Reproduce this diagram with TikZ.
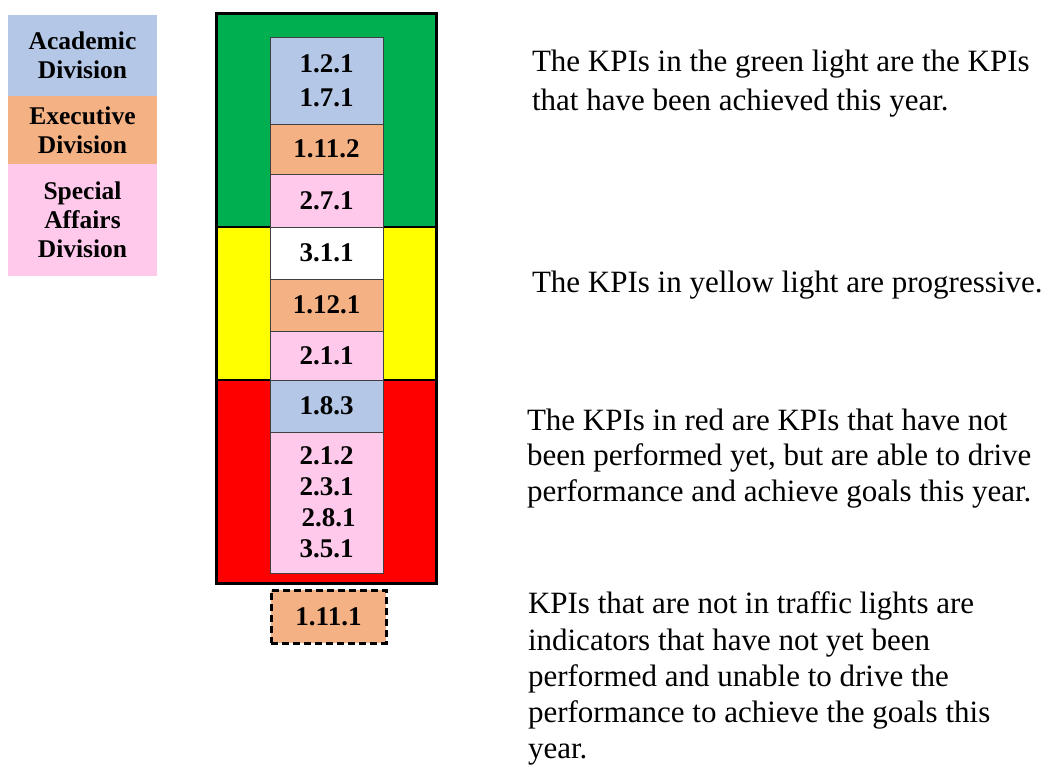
\documentclass[tikz,border=0pt]{standalone}
\usepackage{fontspec}
\setmainfont{Liberation Serif}
\definecolor{acad}{HTML}{B4C7E7}
\definecolor{execc}{HTML}{F4B183}
\definecolor{spec}{HTML}{FFC9EC}
\definecolor{kgreen}{HTML}{00B050}
\definecolor{kyellow}{HTML}{FFFF00}
\definecolor{kred}{HTML}{FF0000}
\begin{document}
\begin{tikzpicture}[x=1bp,y=-1bp,
  legend/.style={inner sep=0pt, outer sep=0pt, minimum width=149bp, anchor=north west, align=center, font=\fontsize{25.5bp}{29bp}\selectfont\bfseries},
  kpi/.style={draw=black!75, line width=1bp, inner sep=0pt, outer sep=0pt, minimum width=113bp, anchor=north west, align=center, font=\fontsize{27bp}{34bp}\selectfont\bfseries},
  band/.style={draw=black, line width=2bp},
  desc/.style={anchor=base west, inner sep=0pt, outer sep=0pt, font=\fontsize{31bp}{37bp}\selectfont}]
\useasboundingbox (0,0) rectangle (1057,765);
% legend
\node[legend, fill=acad, minimum height=81bp] (la) at (8,15) {Academic\\Division};
\node[legend, fill=execc, minimum height=68bp] (le) at (8,96) {Executive\\Division};
\node[legend, fill=spec, minimum height=112bp] (ls) at (8,164) {Special\\Affairs\\Division};
% traffic light bands
\fill[kgreen] (216,14) rectangle (436,227);
\fill[kyellow] (216,227) rectangle (436,380);
\fill[kred] (216,380) rectangle (436,583);
\draw[band] (216,227) -- (436,227);
\draw[band] (216,380) -- (436,380);
\draw[line width=3bp] (216,14) rectangle (436,583);
% KPI boxes
\node[kpi, fill=acad, minimum height=86bp] (k1) at (270,38) {1.2.1\\1.7.1};
\node[kpi, fill=execc, minimum height=50bp] (k2) at (270,124) {1.11.2};
\node[kpi, fill=spec, minimum height=53bp] (k3) at (270,174) {2.7.1};
\node[kpi, fill=white, minimum height=52bp] (k4) at (270,227) {3.1.1};
\node[kpi, fill=execc, minimum height=52bp] (k5) at (270,279) {1.12.1};
\node[kpi, fill=spec, minimum height=49bp] (k6) at (270,331) {2.1.1};
\node[kpi, fill=acad, minimum height=52bp] (k7) at (270,380) {1.8.3};
\node[kpi, fill=spec, minimum height=141bp, font=\fontsize{27bp}{31bp}\selectfont\bfseries] (k8) at (270,432) {2.1.2\\2.3.1\\\hspace*{4bp}2.8.1\\3.5.1};
\node[kpi, fill=execc, draw=black, line width=3bp, dash pattern=on 7bp off 4bp, minimum width=115bp, minimum height=53bp] (k9) at (271,590) {1.11.1};
% descriptions
\node[desc] (g1) at (532,72) {The KPIs in the green light are the KPIs};
\node[desc] (g2) at (532,110) {that have been achieved this year.};
\node[desc] (y1) at (532,292) {The KPIs in yellow light are progressive.};
\node[desc] (r1) at (527,430) {The KPIs in red are KPIs that have not};
\node[desc] (r2) at (527,465) {been performed yet, but are able to drive};
\node[desc] (r3) at (527,501) {performance and achieve goals this year.};
\node[desc] (b1) at (528,613) {KPIs that are not in traffic lights are};
\node[desc] (b2) at (528,650) {indicators that have not yet been};
\node[desc] (b3) at (528,686) {performed and unable to drive the};
\node[desc] (b4) at (528,722) {performance to achieve the goals this};
\node[desc] (b5) at (528,758) {year.};
\end{tikzpicture}
\end{document}
